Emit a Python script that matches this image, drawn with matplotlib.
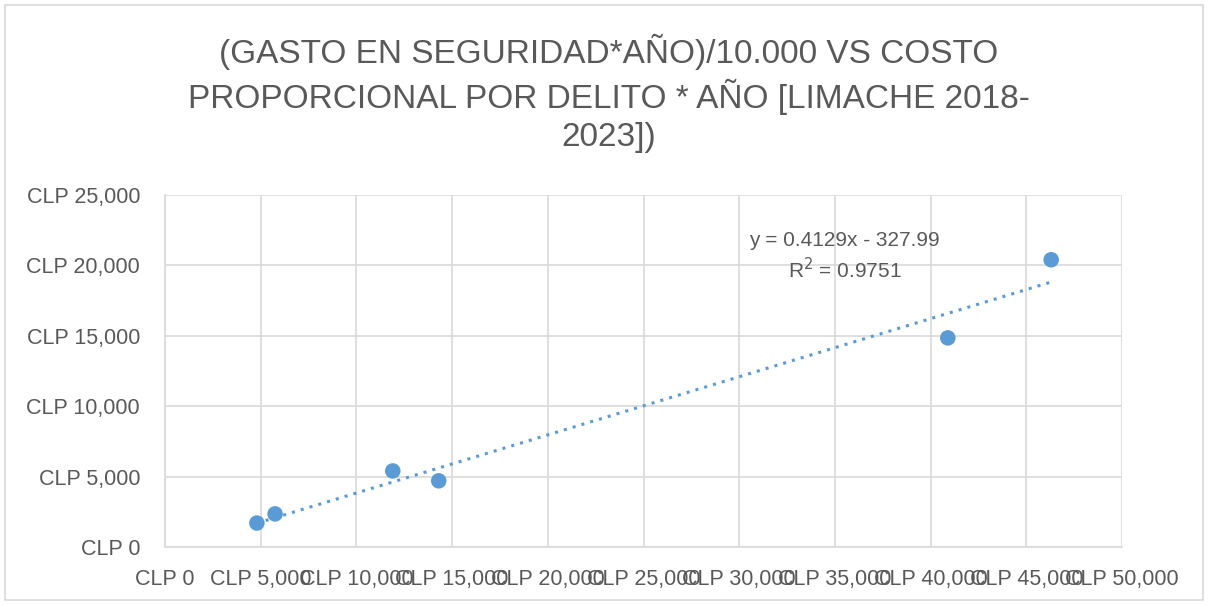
import matplotlib.pyplot as plt
import numpy as np
from matplotlib.ticker import FuncFormatter, MultipleLocator
from matplotlib.patches import Rectangle

# costo proporcional por delito * año (x) vs gasto en seguridad*año/10.000 (y)
costo = [4800, 5750, 11900, 14300, 40900, 46300]
gasto = [1700, 2350, 5400, 4700, 14850, 20400]

title = "(GASTO EN SEGURIDAD*AÑO)/10.000 VS COSTO\nPROPORCIONAL POR DELITO * AÑO [LIMACHE 2018-\n2023])"
eq_text = "y = 0.4129x - 327.99\nR$^2$ = 0.9751"

plt.rcParams['font.family'] = ['Liberation Sans', 'DejaVu Sans']

fig = plt.figure(figsize=(12.08, 6.05), dpi=100)
fig.patches.append(Rectangle((0.004, 0.008), 0.992, 0.984, transform=fig.transFigure,
                             fill=False, edgecolor='#D9D9D9', linewidth=1.2))

ax = fig.add_axes([0.1366, 0.0959, 0.7922, 0.5818])

blue = '#5B9BD5'
ax.scatter(costo, gasto, s=125, color=blue, zorder=3, edgecolors='none')

# linear trendline
m, b = np.polyfit(costo, gasto, 1)
xs = np.array([min(costo), max(costo)])
ax.plot(xs, m * xs + b, linestyle=(0, (1, 2)), color=blue, linewidth=2.2, zorder=2)

ax.set_xlim(0, 50000)
ax.set_ylim(0, 25000)
ax.xaxis.set_major_locator(MultipleLocator(5000))
ax.yaxis.set_major_locator(MultipleLocator(5000))
fmt = FuncFormatter(lambda v, p: "CLP {:,.0f}".format(v))
ax.xaxis.set_major_formatter(fmt)
ax.yaxis.set_major_formatter(fmt)
ax.grid(True, color='#D9D9D9', linewidth=1.2)
ax.set_axisbelow(True)
for s in ['top', 'right']:
    ax.spines[s].set_visible(False)
for s in ['left', 'bottom']:
    ax.spines[s].set_color('#D9D9D9')
    ax.spines[s].set_linewidth(1.2)
ax.tick_params(length=0, labelsize=15.5, colors='#595959')
ax.tick_params(axis='x', pad=16)
ax.tick_params(axis='y', pad=18)

ax.text(0.71, 0.825, eq_text, transform=ax.transAxes, fontsize=15, color='#595959',
        ha='center', va='center', linespacing=1.3)

fig.text(0.504, 0.846, title, ha='center', va='center', fontsize=24,
         color='#595959', linespacing=1.3)

plt.savefig('out.png', dpi=100)
